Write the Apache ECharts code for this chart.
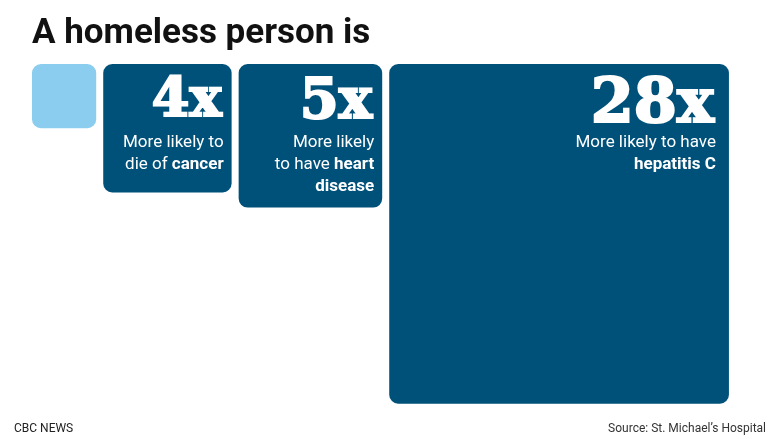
<!DOCTYPE html>
<html><head><meta charset="utf-8">
<script src="https://cdn.jsdelivr.net/npm/echarts@6/dist/echarts.min.js"></script>
<style>html,body{margin:0;padding:0;background:#fff}#c{width:780px;height:439px}</style>
</head><body><div id="c"></div>
<script>
// Data
const categories = ['Baseline', 'Cancer', 'Heart disease', 'Hepatitis C'];
const multiples = [1, 4, 5, 28];
const bigLabels = ['', '4x', '5x', '28x'];
const captions = [
  [],
  ['More likely to', 'die of {b|cancer}'],
  ['More likely', 'to have {b|heart}', '{b|disease}'],
  ['More likely to have', '{b|hepatitis C}']
];
const titleText = 'A homeless person is';
const creditText = 'CBC NEWS';
const sourceText = 'Source: St. Michael\u2019s Hospital';

// Styles
const GAP = 7 / 64; // gap between squares in data units (1 unit = side of the "1x" square)
const bigFont = [0, 54, 56, 62];
const fills = ['#8acdee', '#00517a', '#00517a', '#00517a'];

const chart = echarts.init(document.getElementById('c'), null, {renderer: 'canvas'});

function renderItem(params, api) {
  const i = params.dataIndex;
  let x0 = 0;
  for (let j = 0; j < i; j++) x0 += Math.sqrt(multiples[j]) + GAP;
  const side = Math.sqrt(api.value(1));
  const p = api.coord([x0, 0]);
  const s = api.size([side, side]);
  const w = s[0], h = s[1];
  const children = [{
    type: 'rect',
    shape: {x: p[0], y: p[1], width: w, height: h, r: 9},
    style: {fill: fills[i]}
  }];
  if (bigLabels[i]) {
    const right = p[0] + w - (i === 3 ? 15 : 10);
    children.push({
      type: 'text',
      style: {
        text: bigLabels[i], x: right, y: p[1] + 11,
        align: 'right', verticalAlign: 'top',
        font: 'bold ' + bigFont[i] + 'px "DejaVu Serif"',
        fill: '#ffffff', stroke: '#ffffff', lineWidth: 2.2, lineJoin: 'round'
      }
    });
    children.push({
      type: 'text',
      style: {
        text: captions[i].join('\n'), x: right + 2, y: p[1] + 68,
        align: 'right', verticalAlign: 'top',
        fontFamily: 'Roboto', fontSize: 17, lineHeight: 22,
        fill: '#ffffff',
        rich: {b: {fontFamily: 'Roboto', fontWeight: 'bold', fontSize: 17, lineHeight: 22, fill: '#ffffff'}}
      }
    });
  }
  return {type: 'group', children: children};
}

chart.setOption({
  backgroundColor: '#ffffff',
  animation: false,
  title: [
    {text: titleText, left: 27, top: 12,
     textStyle: {fontFamily: 'Roboto', fontWeight: 'bold', fontSize: 35, color: '#111111'}},
    {text: creditText, left: 9, top: 418,
     textStyle: {fontFamily: 'Roboto', fontWeight: 'normal', fontSize: 12, color: '#222'}},
    {text: sourceText, right: 9, top: 418,
     textStyle: {fontFamily: 'Roboto', fontWeight: 'normal', fontSize: 12, color: '#333'}}
  ],
  grid: {left: 32, top: 64, width: 642, height: 321},
  xAxis: {type: 'value', min: 0, max: 10, show: false},
  yAxis: {type: 'value', min: 0, max: 5, inverse: true, show: false},
  series: [{
    type: 'custom',
    clip: false,
    renderItem: renderItem,
    data: categories.map((c, i) => [i, multiples[i]]),
    encode: {x: 0, y: 1}
  }]
});
</script></body></html>
